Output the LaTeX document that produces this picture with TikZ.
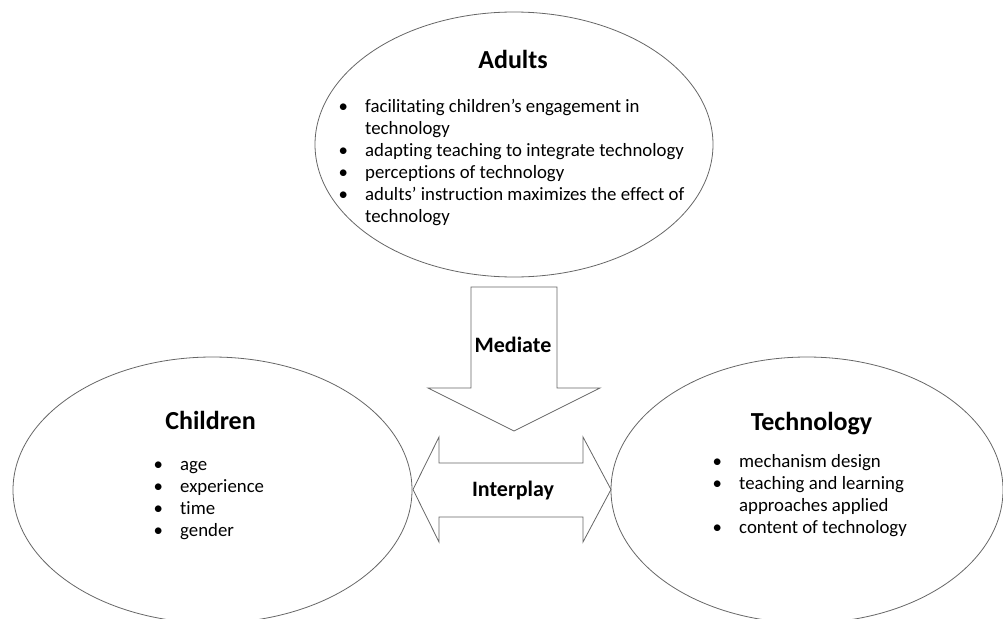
\documentclass[tikz,border=0pt]{standalone}
\usepackage{fontspec}
\setmainfont{Carlito}[Ligatures=NoCommon]
\usetikzlibrary{shapes.geometric}

% bullet item and continuation line inside a list
\newcommand{\itm}{\makebox[22pt][l]{\makebox[0pt]{\textbullet}}}
\newcommand{\cnt}{\hspace*{22pt}}

\begin{document}
\begin{tikzpicture}[x=1pt, y=-1pt,
                bignode/.style={ellipse, draw=black!60, line width=0.8pt, inner sep=0pt},
                titlenode/.style={font=\fontsize{26}{30}\selectfont\bfseries, anchor=base, inner sep=0pt},
                listnode/.style={font=\fontsize{18.8}{22}\selectfont, anchor=base west, inner sep=0pt},
                blockarrow/.style={draw=black!60, line width=0.8pt, line join=miter},
                arrowlabel/.style={font=\fontsize{22}{26}\selectfont\bfseries, anchor=base, inner sep=0pt},
            ]
            \clip (0,0) rectangle (1003,618);

            % Ellipses
            \node[bignode, minimum width=398pt, minimum height=265pt] (adults)     at (514,144.5) {};
            \node[bignode, minimum width=399pt, minimum height=266pt] (children)   at (212.5,490) {};
            \node[bignode, minimum width=392pt, minimum height=266pt] (technology) at (807,490) {};

            % Titles
            \node[titlenode] (adults_title)     at (513,68)    {Adults};
            \node[titlenode] (children_title)   at (210.5,429) {Children};
            \node[titlenode] (technology_title) at (811.5,430) {Technology};

            % Lists
            \node[listnode] (adults_list) at (343,112.5) {\begin{tabular}[t]{@{}l@{}}
                \itm facilitating children’s engagement in\\
                \cnt technology\\
                \itm adapting teaching to integrate technology\\
                \itm perceptions of technology\\
                \itm adults’ instruction maximizes the effect of\\
                \cnt technology
            \end{tabular}};
            \node[listnode] (children_list) at (158,470) {\begin{tabular}[t]{@{}l@{}}
                \itm age\\
                \itm experience\\
                \itm time\\
                \itm gender
            \end{tabular}};
            \node[listnode] (technology_list) at (717,467.5) {\begin{tabular}[t]{@{}l@{}}
                \itm mechanism design\\
                \itm teaching and learning\\
                \cnt approaches applied\\
                \itm content of technology
            \end{tabular}};

            % Block arrows
            \draw[blockarrow] (471,287) -- (557,287) -- (557,388) -- (600,388)
                -- (514,431) -- (428,388) -- (471,388) -- cycle;
            \draw[blockarrow] (413,489.5) -- (439,437) -- (439,463) -- (583,463) -- (583,437)
                -- (611,489.5) -- (583,542) -- (583,517) -- (439,517) -- (439,542) -- cycle;

            \node[arrowlabel] (mediate)   at (513,352) {Mediate};
            \node[arrowlabel] (interplay) at (513,496) {Interplay};
        \end{tikzpicture}
\end{document}
